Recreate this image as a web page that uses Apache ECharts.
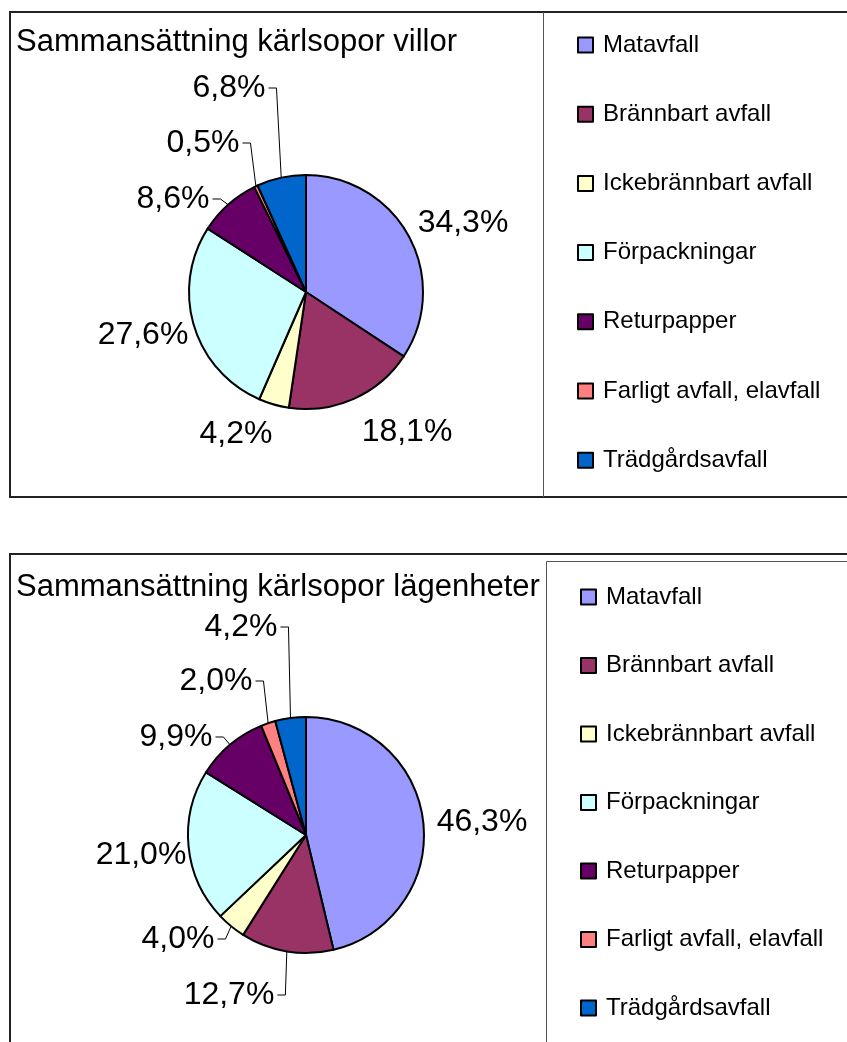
<!DOCTYPE html>
<html><head><meta charset="utf-8">
<script src="https://cdn.jsdelivr.net/npm/echarts@6/dist/echarts.min.js"></script>
<style>html,body{margin:0;padding:0;background:#fff}#c{width:847px;height:1042px}</style>
</head><body><div id="c"></div>
<script>
// ---- data ----
const categories = ['Matavfall', 'Brännbart avfall', 'Ickebrännbart avfall', 'Förpackningar', 'Returpapper', 'Farligt avfall, elavfall', 'Trädgårdsavfall'];
const villorValues = [34.3, 18.1, 4.2, 27.6, 8.6, 0.5, 6.8];
const lagenheterValues = [46.3, 12.7, 4.0, 21.0, 9.9, 2.0, 4.2];
const chartTitles = ['Sammansättning kärlsopor villor', 'Sammansättning kärlsopor lägenheter'];

// ---- style / layout ----
const colors = ['#9999FF', '#993366', '#FFFFCC', '#CCFFFF', '#660066', '#FF8080', '#0066CC'];
const FONT = '"Liberation Sans", Arial, Helvetica, sans-serif';
const pies = [
  { center: [306, 292], r: 117,
    labelOffsets: [[157, -69], [101, 140], [-70, 142], [-163, 43], [-133, -93], [-103, -149], [-77, -204]],
    leader: [false, false, false, false, true, true, true] },
  { center: [306, 835], r: 118,
    labelOffsets: [[176, -13], [-77, 160], [-128, 104], [-165, 20], [-130, -98], [-90, -154], [-65, -208]],
    leader: [false, true, true, false, true, true, true] }
];
const seriesValues = [villorValues, lagenheterValues];

function fmt(v) { return v.toFixed(1).replace('.', ',') + '%'; }
function pt(p) { return Array.isArray(p) ? p : [p.x, p.y]; }

const chart = echarts.init(document.getElementById('c'), null, { renderer: 'canvas' });

const option = {
  animation: false,
  color: colors,
  title: chartTitles.map((t, i) => ({
    text: t, left: 16, top: i ? 572 : 27, padding: 0,
    textStyle: { fontFamily: FONT, fontSize: 31, fontWeight: 'normal', color: '#000', lineHeight: 31 }
  })),
  legend: [0, 1].map(i => ({
    orient: 'vertical', left: i ? 580 : 577, top: i ? 585 : 33, padding: 0,
    itemWidth: 15, itemHeight: 15, itemGap: i ? 44.5 : 45.2, icon: 'rect',
    selectedMode: false, data: categories,
    itemStyle: { borderColor: '#000', borderWidth: 2 },
    textStyle: { fontFamily: FONT, fontSize: 24, color: '#000', lineHeight: 24, padding: [0, 0, 0, 5] }
  })),
  graphic: [
    { type: 'rect', shape: { x: 10, y: 12, width: 900, height: 485 }, style: { fill: 'none', stroke: '#222', lineWidth: 2 }, z: 0 },
    { type: 'line', shape: { x1: 543.5, y1: 12, x2: 543.5, y2: 497 }, style: { stroke: '#555', lineWidth: 1 }, z: 0 },
    { type: 'rect', shape: { x: 10, y: 554, width: 900, height: 600 }, style: { fill: 'none', stroke: '#222', lineWidth: 2 }, z: 0 },
    { type: 'rect', shape: { x: 546.5, y: 561.5, width: 400, height: 600 }, style: { fill: 'none', stroke: '#555', lineWidth: 1 }, z: 0 }
  ],
  series: pies.map((p, si) => ({
    type: 'pie',
    center: p.center,
    radius: p.r,
    startAngle: 90,
    clockwise: true,
    avoidLabelOverlap: false,
    emphasis: { disabled: true },
    itemStyle: { borderColor: '#000', borderWidth: 2 },
    label: {
      show: true, position: 'outside', fontFamily: FONT, fontSize: 32, color: '#000',
      formatter: prm => fmt(prm.value)
    },
    labelLine: { show: true, length: 10, length2: 10, lineStyle: { color: '#000', width: 1 } },
    labelLayout: function (params) {
      const pp = pies[params.seriesIndex];
      const off = pp.labelOffsets[params.dataIndex];
      const x = pp.center[0] + off[0], y = pp.center[1] + off[1];
      const res = { x: x, y: y, align: 'center', verticalAlign: 'middle' };
      if (pp.leader[params.dataIndex] && params.labelLinePoints) {
        const a = pt(params.labelLinePoints[0]);
        const right = x + params.labelRect.width / 2;
        res.labelLinePoints = [[a[0], a[1]], [right + 11, y], [right + 3, y]];
      }
      return res;
    },
    data: categories.map((name, k) => ({
      name: name, value: seriesValues[si][k],
      labelLine: { show: p.leader[k] }
    }))
  }))
};
chart.setOption(option);
</script>
</body></html>
